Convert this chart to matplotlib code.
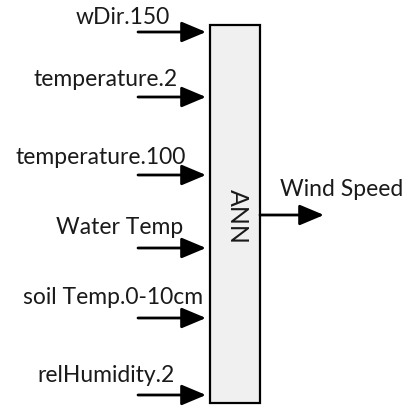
"""
Block diagram: six meteorological inputs feeding an ANN that predicts wind speed.
"""
import matplotlib
matplotlib.use('Agg')
import matplotlib.pyplot as plt
from matplotlib.patches import Rectangle

# Diagram content
input_names = [
    'wDir.150',
    'temperature.2',
    'temperature.100',
    'Water Temp',
    'soil Temp.0-10cm',
    'relHumidity.2',
]
model_name = 'ANN'
output_name = 'Wind Speed'

# Layout (pixel coordinates, y grows downward)
arrow_y = [32, 97, 175, 248, 318, 395]
label_cx = [123, 106, 101, 120, 113, 106]
label_dy = [14, 17, 18, 20, 20, 20]
box_x0, box_x1, box_y0, box_y1 = 210, 260, 25, 403
out_y = 215

plt.rcParams['font.family'] = ['Lato', 'DejaVu Sans']

fig = plt.figure(figsize=(4.06, 4.08), dpi=100)
ax = fig.add_axes([0, 0, 1, 1])
ax.set_xlim(0, 406)
ax.set_ylim(408, 0)
ax.axis('off')

arrow_kw = dict(
    arrowstyle='-|>,head_length=1.0,head_width=0.42',
    mutation_scale=15,
    color='black',
    lw=2,
    shrinkA=0,
    shrinkB=0,
)

# Input arrows and labels
for name, y, cx, dy in zip(input_names, arrow_y, label_cx, label_dy):
    ax.annotate('', xy=(box_x0 - 4, y), xytext=(138, y), arrowprops=arrow_kw)
    ax.text(cx, y - dy, name, ha='center', va='center',
            fontsize=16.5, color='#1a1a1a')

# Model box
box = Rectangle((box_x0, box_y0), box_x1 - box_x0, box_y1 - box_y0,
                facecolor='#f0f0f0', edgecolor='black', lw=1.6)
ax.add_patch(box)
ax.text((box_x0 + box_x1) / 2 + 2, out_y + 1, model_name, rotation=-90,
        ha='center', va='center', fontsize=18, color='#1a1a1a')

# Output arrow and label
ax.annotate('', xy=(324, out_y), xytext=(box_x1, out_y), arrowprops=arrow_kw)
ax.text(342, out_y - 25, output_name, ha='center', va='center',
        fontsize=16.5, color='#1a1a1a')

fig.savefig('out.png', dpi=100)
plt.close(fig)
